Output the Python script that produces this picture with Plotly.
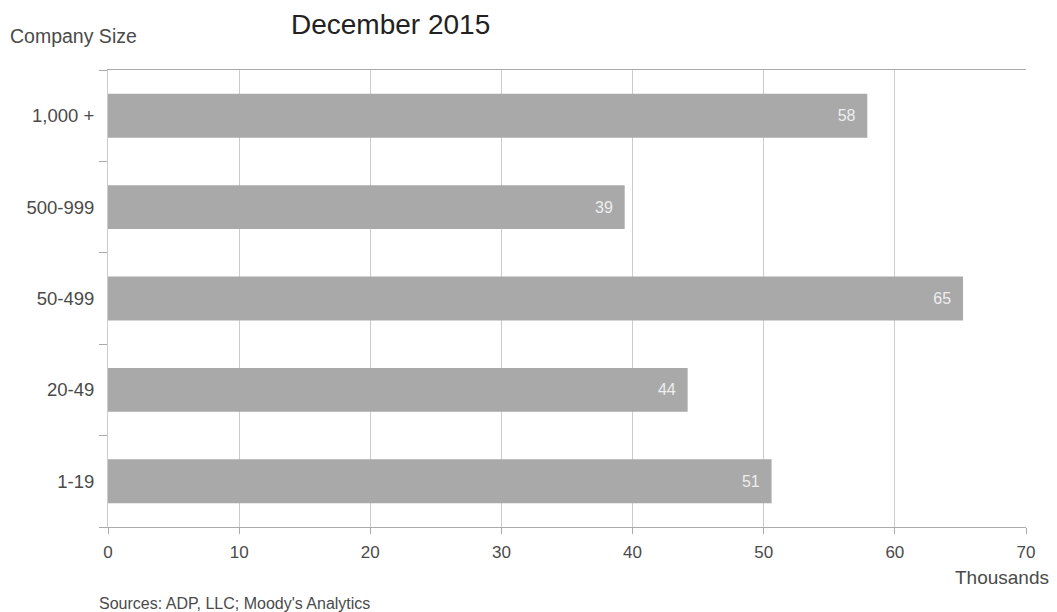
import plotly.graph_objects as go

categories = ["1-19", "20-49", "50-499", "500-999", "1,000 +"]
values = [50.6, 44.2, 65.2, 39.4, 57.9]
labels = ["51", "44", "65", "39", "58"]
x_ticks = [0, 10, 20, 30, 40, 50, 60, 70]

W, H = 1057, 612
L, R, T, B = 108, 31, 70, 85
font = "Liberation Sans, Arial, sans-serif"

fig = go.Figure()
fig.add_trace(go.Bar(
    y=categories, x=values, orientation="h",
    marker=dict(color="#a9a9a9", line=dict(width=0)),
    text=[t + "\u00a0\u00a0" for t in labels], textposition="inside", insidetextanchor="end",
    textfont=dict(color="#eeeeee", size=16, family=font),
    hoverinfo="skip",
))


def px_ann(text, x, y, size, color, xanchor):
    return dict(text=text, x=(x - L) / (W - L - R), y=(H - B - y) / (H - T - B),
                xref="paper", yref="paper", showarrow=False,
                font=dict(size=size, color=color, family=font),
                xanchor=xanchor, yanchor="middle")


fig.update_layout(
    width=W, height=H,
    margin=dict(l=L, r=R, t=T, b=B),
    paper_bgcolor="white", plot_bgcolor="white",
    bargap=0.52, showlegend=False,
    font=dict(family=font, size=18, color="#4a4a4a"),
    xaxis=dict(range=[0, 70], tickvals=x_ticks, showgrid=True, gridcolor="#cccccc",
               gridwidth=1, zeroline=False, showline=True, linecolor="#aaaaaa",
               mirror=True, ticks="outside", ticklen=6, tickcolor="#aaaaaa",
               ticklabelstandoff=4,
               tickfont=dict(size=17, color="#4a4a4a"), fixedrange=True),
    yaxis=dict(range=[-0.5, 4.5], tickson="boundaries", ticks="outside", ticklen=8,
               tickcolor="#aaaaaa", showline=True, linecolor="#cccccc", showgrid=False,
               zeroline=False, ticklabelstandoff=9,
               tickfont=dict(size=18.5, color="#4a4a4a")),
    annotations=[
        px_ann("December 2015", 289, 25, 28, "#222", "left"),
        px_ann("Company Size", 8, 36, 19.5, "#4a4a4a", "left"),
        px_ann("Thousands", 1051, 577, 19, "#4a4a4a", "right"),
        px_ann("Sources: ADP, LLC; Moody's Analytics", 97, 603, 16, "#4a4a4a", "left"),
    ],
)

fig.write_html("out.html", config={"displayModeBar": False},
               post_script="document.body.style.margin='0';")
